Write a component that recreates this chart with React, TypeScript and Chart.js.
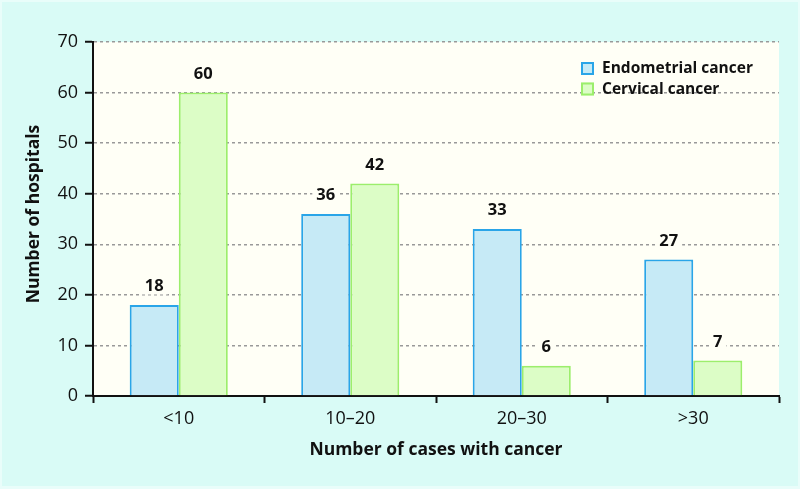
import React, { useEffect, useRef } from "react";
import { Chart, registerables } from "chart.js";

Chart.register(...registerables);

const categories = ["<10", "10\u201320", "20\u201330", ">30"];
const endometrial = [18, 36, 33, 27];
const cervical = [60, 42, 6, 7];
const seriesNames = ["Endometrial cancer", "Cervical cancer"];
const yTicks = [0, 10, 20, 30, 40, 50, 60, 70];
const xTitle = "Number of cases with cancer";
const yTitle = "Number of hospitals";

const FONT = "'Open Sans', 'DejaVu Sans', sans-serif";
const OUTER_BG = "#d9fbf6";
const PLOT_BG = "#fffff6";
const BLUE_FILL = "#c6eaf6";
const BLUE_BORDER = "#2aa5e8";
const GREEN_FILL = "#dcfdc6";
const GREEN_BORDER = "#9cee6c";

const decorPlugin = {
  id: "decor",
  beforeDraw(chart: any) {
    const { ctx, width, height, chartArea } = chart;
    ctx.save();
    ctx.fillStyle = "#e9fdfa";
    ctx.fillRect(0, 0, width, height);
    ctx.fillStyle = OUTER_BG;
    ctx.fillRect(2, 2, width - 4, height - 5);
    ctx.fillStyle = PLOT_BG;
    ctx.fillRect(chartArea.left, chartArea.top, chartArea.right - chartArea.left, chartArea.bottom - chartArea.top);
    ctx.restore();
  },
  afterDraw(chart: any) {
    const { ctx, chartArea } = chart;
    ctx.save();
    // value labels
    ctx.font = `bold 16.5px ${FONT}`;
    ctx.textAlign = "center";
    ctx.textBaseline = "middle";
    chart.data.datasets.forEach((ds: any, di: number) => {
      const meta = chart.getDatasetMeta(di);
      meta.data.forEach((bar: any, i: number) => {
        const txt = String(ds.data[i]);
        const w = ctx.measureText(txt).width;
        const y = bar.y - 19.5;
        ctx.fillStyle = PLOT_BG;
        ctx.fillRect(bar.x - w / 2 - 4, y - 9, w + 8, 18);
        ctx.fillStyle = "#111";
        ctx.fillText(txt, bar.x, y + 1);
      });
    });
    // legend
    const items = [
      { label: seriesNames[0], fill: BLUE_FILL, border: BLUE_BORDER },
      { label: seriesNames[1], fill: GREEN_FILL, border: GREEN_BORDER },
    ];
    ctx.font = `bold 15.5px ${FONT}`;
    ctx.textAlign = "left";
    ctx.textBaseline = "middle";
    items.forEach((it, k) => {
      const bx = 581;
      const by = 62 + k * 20.5;
      ctx.fillStyle = it.fill;
      ctx.fillRect(bx, by, 13, 13);
      ctx.strokeStyle = it.border;
      ctx.lineWidth = 2;
      ctx.strokeRect(bx + 1, by + 1, 11, 11);
      ctx.fillStyle = "#111";
      ctx.fillText(it.label, 602, by + 7);
    });
    // axis titles
    ctx.font = `bold 17.5px ${FONT}`;
    ctx.textAlign = "center";
    ctx.textBaseline = "middle";
    ctx.fillStyle = "#111";
    ctx.fillText(xTitle, (chartArea.left + chartArea.right) / 2, 450);
    ctx.translate(34, 214);
    ctx.rotate(-Math.PI / 2);
    ctx.fillText(yTitle, 0, 0);
    ctx.restore();
  },
};

export default function App() {
  const ref = useRef<HTMLCanvasElement>(null);
  useEffect(() => {
    document.body.style.margin = "0";
    const canvas = ref.current!;
    const chart = new Chart(canvas, {
      type: "bar",
      data: {
        labels: categories,
        datasets: [
          {
            label: seriesNames[0],
            data: endometrial,
            backgroundColor: BLUE_FILL,
            borderColor: BLUE_BORDER,
            borderWidth: 2,
          },
          {
            label: seriesNames[1],
            data: cervical,
            backgroundColor: GREEN_FILL,
            borderColor: GREEN_BORDER,
            borderWidth: 2,
          },
        ],
      },
      options: {
        responsive: false,
        animation: false,
        devicePixelRatio: 1,
        layout: { padding: { top: 42, right: 21, left: 0, bottom: 0 } },
        datasets: { bar: { categoryPercentage: 0.572, barPercentage: 1 } },
        plugins: {
          legend: { display: false },
          tooltip: { enabled: false },
        },
        scales: {
          x: {
            afterFit: (s: any) => {
              s.height = 93;
            },
            grid: {
              offset: true,
              drawOnChartArea: false,
              drawTicks: true,
              tickLength: 7,
              tickColor: "#111",
              tickWidth: 2,
            },
            border: { display: true, color: "#111", width: 2 },
            ticks: {
              color: "#111",
              font: { family: FONT, size: 18 },
              padding: 5,
            },
          },
          y: {
            min: 0,
            max: 70,
            afterFit: (s: any) => {
              s.width = 93;
            },
            afterBuildTicks: (s: any) => {
              s.ticks = yTicks.map((v) => ({ value: v }));
            },
            grid: {
              color: "#999",
              lineWidth: 1.5,
              drawTicks: true,
              tickLength: 8,
              tickColor: "#111",
              tickWidth: 2,
              tickBorderDash: [],
            },
            border: { display: true, color: "#111", width: 2, dash: [3, 3] },
            ticks: {
              color: "#111",
              font: { family: FONT, size: 18 },
              padding: 7,
            },
          },
        },
      },
      plugins: [decorPlugin],
    });
    return () => chart.destroy();
  }, []);
  return <canvas ref={ref} width={800} height={489} style={{ display: "block", width: 800, height: 489 }} />;
}
